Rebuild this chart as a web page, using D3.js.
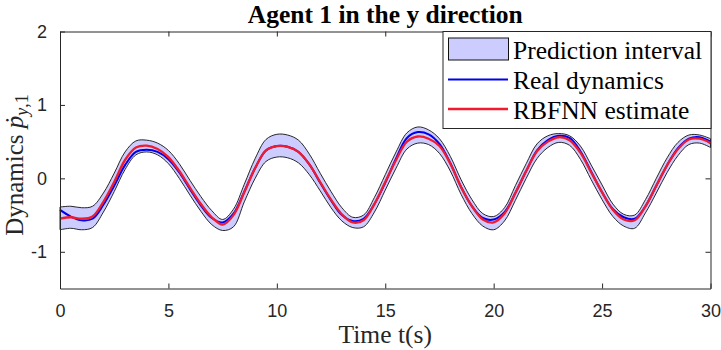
<!DOCTYPE html>
<html>
<head>
<meta charset="utf-8">
<script src="https://cdn.jsdelivr.net/npm/d3@7"></script>
<style>
  body { margin: 0; background: #fff; }
  svg { display: block; }
</style>
</head>
<body>
<svg id="chart" width="721" height="350"></svg>
<script>
// time samples (s)
const time = [
  0, 0.5, 1, 1.5, 2, 2.5, 3, 3.5, 4, 4.5, 5, 5.5, 6, 6.5, 7, 7.5, 8, 8.5, 9, 9.5,
  10, 10.5, 11, 11.5, 12, 12.5, 13, 13.5, 14, 14.5, 15, 15.5, 16, 16.5, 17, 17.5, 18, 18.5, 19, 19.5,
  20, 20.5, 21, 21.5, 22, 22.5, 23, 23.5, 24, 24.5, 25, 25.5, 26, 26.5, 27, 27.5, 28, 28.5, 29, 29.5, 30
];

// RBFNN estimate
const estimate = [
  -0.55, -0.53, -0.55, -0.52, -0.32, -0.05, 0.25, 0.42, 0.445, 0.40, 0.29, 0.10, -0.13, -0.35, -0.53, -0.63, -0.50, -0.19, 0.14, 0.38,
  0.44, 0.43, 0.36, 0.19, -0.05, -0.29, -0.49, -0.60, -0.57, -0.35, -0.05, 0.25, 0.50, 0.57, 0.54, 0.44, 0.20, -0.12, -0.38, -0.56,
  -0.60, -0.48, -0.20, 0.10, 0.37, 0.50, 0.56, 0.52, 0.35, 0.08, -0.19, -0.43, -0.56, -0.57, -0.38, -0.10, 0.18, 0.40, 0.53, 0.54, 0.48
];

// real dynamics
const real = [
  -0.43, -0.52, -0.57, -0.55, -0.36, -0.10, 0.18, 0.36, 0.39, 0.36, 0.26, 0.08, -0.15, -0.37, -0.54, -0.60, -0.48, -0.18, 0.14, 0.38,
  0.44, 0.43, 0.36, 0.19, -0.06, -0.30, -0.50, -0.58, -0.55, -0.35, -0.06, 0.27, 0.55, 0.63, 0.60, 0.47, 0.21, -0.12, -0.38, -0.54,
  -0.56, -0.46, -0.20, 0.10, 0.38, 0.52, 0.58, 0.55, 0.37, 0.09, -0.19, -0.42, -0.53, -0.55, -0.38, -0.10, 0.18, 0.41, 0.54, 0.56, 0.50
];

// prediction interval bounds
const upper = [
  -0.39, -0.38, -0.40, -0.38, -0.20, 0.07, 0.36, 0.51, 0.52, 0.48, 0.38, 0.20, -0.03, -0.25, -0.44, -0.56, -0.42, -0.08, 0.27, 0.53,
  0.60, 0.59, 0.52, 0.33, 0.07, -0.18, -0.40, -0.53, -0.50, -0.26, 0.05, 0.36, 0.62, 0.70, 0.66, 0.54, 0.30, -0.02, -0.29, -0.48,
  -0.52, -0.40, -0.10, 0.20, 0.47, 0.58, 0.61, 0.58, 0.44, 0.18, -0.09, -0.35, -0.49, -0.50, -0.29, 0.00, 0.28, 0.49, 0.59, 0.59, 0.54
];
const lower = [
  -0.70, -0.68, -0.70, -0.67, -0.46, -0.18, 0.12, 0.32, 0.36, 0.32, 0.20, 0.00, -0.23, -0.45, -0.63, -0.71, -0.66, -0.32, 0.00, 0.23,
  0.29, 0.28, 0.21, 0.05, -0.17, -0.40, -0.58, -0.67, -0.66, -0.46, -0.16, 0.14, 0.40, 0.48, 0.46, 0.34, 0.10, -0.22, -0.48, -0.65,
  -0.70, -0.58, -0.30, 0.00, 0.27, 0.42, 0.49, 0.45, 0.26, -0.02, -0.29, -0.52, -0.65, -0.68, -0.47, -0.20, 0.08, 0.31, 0.46, 0.48, 0.42
];

const xTicks = [0, 5, 10, 15, 20, 25, 30];
const yTicks = [-1, 0, 1, 2];
const legendLabels = ["Prediction interval", "Real dynamics", "RBFNN estimate"];

const data = time.map((t, i) => ({
  t: t, est: estimate[i], real: real[i], hi: upper[i], lo: lower[i]
}));

const margin = { top: 31.5, right: 10.5, bottom: 61.5, left: 60 };
const svg = d3.select("#chart");
const width = +svg.attr("width") - margin.left - margin.right;
const height = +svg.attr("height") - margin.top - margin.bottom;

const g = svg.append("g")
  .attr("transform", `translate(${margin.left},${margin.top})`);

const x = d3.scaleLinear().domain([0, 30]).range([0, width]);
const y = d3.scaleLinear().domain([-1.5, 2]).range([height, 0]);

const serif = "'Liberation Serif', 'Times New Roman', serif";
const sans = "'Liberation Sans', Arial, sans-serif";
const axisColor = "#262626";

// band
const band = d3.area()
  .curve(d3.curveCatmullRom)
  .x(d => x(d.t))
  .y0(d => y(d.lo))
  .y1(d => y(d.hi));

g.append("path")
  .attr("d", band(data))
  .style("fill", "#ccccff")
  .style("stroke", "#111")
  .style("stroke-width", 0.9);

const line = key => d3.line()
  .curve(d3.curveCatmullRom)
  .x(d => x(d.t))
  .y(d => y(d[key]));

g.append("path")
  .attr("d", line("real")(data))
  .style("fill", "none")
  .style("stroke", "#0000ee")
  .style("stroke-width", 2);

g.append("path")
  .attr("d", line("est")(data))
  .style("fill", "none")
  .style("stroke", "#ee1c2e")
  .style("stroke-width", 2.3);

// axes, MATLAB-like box with inward ticks
const tickLen = 5;
const fmt = d => String(d); // plain hyphen minus like MATLAB
const bottomAxis = g.append("g")
  .attr("transform", `translate(0,${height})`)
  .call(d3.axisBottom(x).tickValues(xTicks).tickFormat(fmt).tickSizeInner(-tickLen).tickSizeOuter(0).tickPadding(16));
const topAxis = g.append("g")
  .call(d3.axisTop(x).tickValues(xTicks).tickSizeInner(-tickLen).tickSizeOuter(0).tickFormat(""));
const leftAxis = g.append("g")
  .call(d3.axisLeft(y).tickValues(yTicks).tickFormat(fmt).tickSizeInner(-tickLen).tickSizeOuter(0).tickPadding(13));
const rightAxis = g.append("g")
  .attr("transform", `translate(${width},0)`)
  .call(d3.axisRight(y).tickValues(yTicks).tickSizeInner(-tickLen).tickSizeOuter(0).tickFormat(""));

[bottomAxis, topAxis, leftAxis, rightAxis].forEach(a => {
  a.select(".domain").attr("stroke", axisColor).attr("stroke-width", 1);
  a.selectAll(".tick line").attr("stroke", axisColor);
  a.selectAll(".tick text")
    .attr("fill", axisColor)
    .style("font-family", sans)
    .style("font-size", "18px");
});
bottomAxis.selectAll(".tick text").attr("dy", "0.71em");

// title
svg.append("text")
  .attr("x", margin.left + width / 2)
  .attr("y", 22.5)
  .attr("text-anchor", "middle")
  .style("font-family", serif)
  .style("font-weight", "bold")
  .style("font-size", "25.5px")
  .style("fill", "#000")
  .text("Agent 1 in the y direction");

// x label
svg.append("text")
  .attr("x", margin.left + width / 2)
  .attr("y", 343)
  .attr("text-anchor", "middle")
  .style("font-family", serif)
  .style("font-size", "25.5px")
  .style("fill", axisColor)
  .text("Time t(s)");

// y label
const yLabelGroup = svg.append("g")
  .attr("transform", "translate(23,165) rotate(-90)");
const yLabel = yLabelGroup.append("text")
  .attr("x", 0)
  .attr("y", 0)
  .attr("text-anchor", "middle")
  .style("font-family", serif)
  .style("font-size", "25px")
  .style("fill", axisColor);
yLabel.append("tspan").text("Dynamics ");
yLabel.append("tspan").style("font-style", "italic").text("\u1E57");
yLabel.append("tspan").attr("dy", 5).style("font-size", "18px").style("font-style", "italic").text("y");
yLabel.append("tspan").style("font-size", "18px").text(",1");

// legend
const legend = svg.append("g").attr("transform", "translate(443,31.5)");
legend.append("rect")
  .attr("width", 268).attr("height", 97)
  .style("fill", "#fff")
  .style("stroke", axisColor)
  .style("stroke-width", 1);

legend.append("rect")
  .attr("x", 5.5).attr("y", 6.5).attr("width", 60).attr("height", 22)
  .style("fill", "#ccccff")
  .style("stroke", "#111");
legend.append("line")
  .attr("x1", 5).attr("x2", 65).attr("y1", 48).attr("y2", 48)
  .style("stroke", "#0000ee").style("stroke-width", 2);
legend.append("line")
  .attr("x1", 5).attr("x2", 65).attr("y1", 77.5).attr("y2", 77.5)
  .style("stroke", "#ee1c2e").style("stroke-width", 2.3);

legend.selectAll("text.lab")
  .data(legendLabels)
  .enter()
  .append("text")
  .attr("class", "lab")
  .attr("x", 70)
  .attr("y", (d, i) => 27 + i * 30)
  .style("font-family", serif)
  .style("font-size", "25.5px")
  .style("fill", "#000")
  .text(d => d);
</script>
</body>
</html>
